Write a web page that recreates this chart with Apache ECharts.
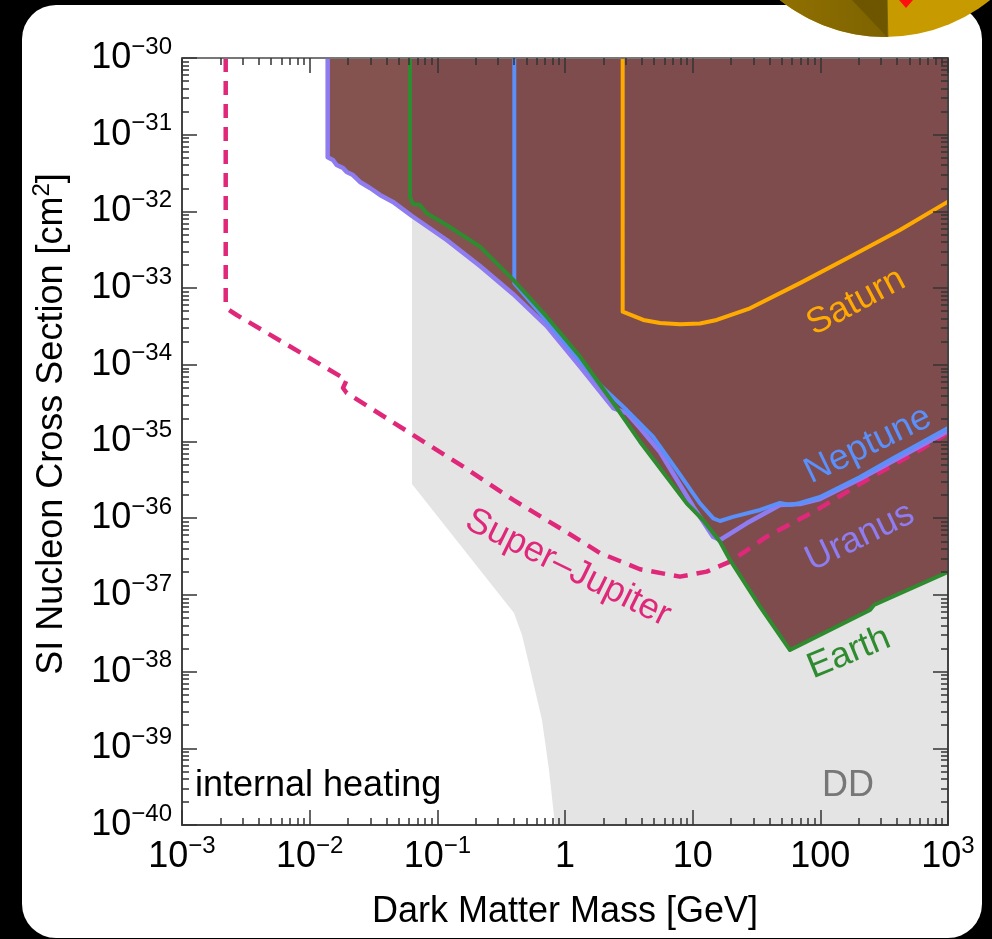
<!DOCTYPE html>
<html><head><meta charset="utf-8">
<script src="https://cdn.jsdelivr.net/npm/echarts@6/dist/echarts.min.js"></script>
<style>html,body{margin:0;padding:0;background:#000;}#c{width:992px;height:939px;}</style>
</head><body><div id="c"></div>
<script>
// ---------------- data (mass in GeV, cross section in cm^2) ----------------
const uranusMass  = [0.01384,0.01384,0.01523,0.01628,0.01825,0.0195,0.02184,0.02479,0.0297,0.03556,0.04496,0.06331,0.1184,0.2159,0.3915,0.7188,1.311,2.389,3.043,3.868,5.548,10.12,14.43,16.37,26.5,48.32,69.3,99.4,204.6,370.9,1000];
const uranusSigma = [1e-30,5.07e-32,4.68e-32,4.03e-32,3.68e-32,3.26e-32,2.98e-32,2.42e-32,2.02e-32,1.64e-32,1.33e-32,8.71e-33,4.24e-33,1.94e-33,8.38e-34,3.20e-34,9.45e-35,2.73e-35,2.35e-35,1.50e-35,7.30e-36,1.41e-36,5.74e-37,5.20e-37,8.58e-37,1.49e-36,1.53e-36,1.78e-36,3.24e-36,5.57e-36,1.37e-35];

const neptuneMass  = [0.4008,0.4008,0.7188,1.311,1.880,3.043,4.891,7.499,11.41,14.51,16.37,20.70,33.69,48.32,57.86,69.30,99.4,204.6,370.9,1000];
const neptuneSigma = [1e-30,1.16e-33,3.72e-34,1.12e-34,5.45e-35,2.57e-35,1.16e-35,4.25e-36,1.56e-36,9.97e-37,9.19e-37,1.04e-36,1.28e-36,1.58e-36,1.49e-36,1.58e-36,1.89e-36,3.44e-36,6.04e-36,1.50e-35];

const earthMass  = [0.06108,0.06108,0.06446,0.07314,0.08254,0.1184,0.2159,0.3936,0.7188,1.311,2.389,3.868,8.981,12.05,16.37,19.61,33.69,57.86,69.30,244.9,263.3,1000];
const earthSigma = [1e-30,1.55e-32,1.25e-32,1.21e-32,9.45e-33,6.65e-33,3.47e-33,1.28e-33,4.24e-34,1.28e-34,3.18e-35,9.94e-36,1.56e-36,9.47e-37,4.94e-37,2.85e-37,7.02e-38,1.91e-38,2.22e-38,6.36e-38,7.38e-38,1.99e-37];

const saturnMass  = [2.830,2.830,4.106,5.548,7.955,11.41,15.43,28.12,69.30,170.8,420.7,1000];
const saturnSigma = [1e-30,4.92e-34,3.84e-34,3.51e-34,3.37e-34,3.46e-34,3.84e-34,5.45e-34,1.16e-33,2.57e-33,5.72e-33,1.34e-32];

const superJupiterMass  = [0.0022,0.0022,0.002334,0.002682,0.0195,0.01825,0.0195,0.1597,0.3936,0.9645,1.880,3.868,7.955,12.88,19.61,38.01,93.65,230.7,603.6,1000];
const superJupiterSigma = [1e-30,6.34e-34,5.18e-34,4.46e-34,6.34e-35,4.98e-35,4.29e-35,4.69e-36,1.73e-36,7.02e-37,3.52e-37,2.16e-37,1.73e-37,2.01e-37,2.71e-37,5.74e-37,1.28e-36,3.15e-36,7.75e-36,1.29e-35];

// direct-detection (DD) excluded region boundary
const ddMass  = [0.06331,0.06331,0.3986,0.4604,0.5131,0.5821,0.6604,0.7494,0.835,1000,1000];
const ddSigma = [1e-30,2.79e-36,5.81e-38,3.00e-38,1.42e-38,5.75e-39,2.34e-39,5.22e-40,1e-40,1e-40,1e-30];

const xTickLabels = ['10^\u22123','10^\u22122','10^\u22121','1','10','100','10^3'];
const yTickLabels = ['10^\u221240','10^\u221239','10^\u221238','10^\u221237','10^\u221236','10^\u221235','10^\u221234','10^\u221233','10^\u221232','10^\u221231','10^\u221230'];

// ---------------- chart ----------------
const FONT = '"Liberation Sans", Arial, Helvetica, sans-serif';
const L = Math.log10;
const toPts = (ms, ss) => ms.map((m, i) => [L(m), L(ss[i])]);
const richText = s => { const i = s.indexOf('^'); return i < 0 ? '{b|' + s + '}' : '{b|' + s.slice(0, i) + '}{s|' + s.slice(i + 1) + '}'; };
const labelRich = {
  b: {fontSize: 36, fontFamily: FONT, color: '#000', lineHeight: 46},
  s: {fontSize: 24, fontFamily: FONT, color: '#000', lineHeight: 24, verticalAlign: 'top'}
};
const xMinorTicks = [], yMinorTicks = [];
for (let n = -3; n < 3; n++) for (let k = 2; k <= 9; k++) xMinorTicks.push(n + L(k));
for (let n = -40; n < -30; n++) for (let k = 2; k <= 9; k++) yMinorTicks.push(n + L(k));

const tickLine = {color: '#333', width: 1.5};
function majorAxis(pos, min, max, lineColor, label) {
  return {type: 'value', position: pos, min, max, interval: 1, z: 20,
    axisLine: {show: true, onZero: false, lineStyle: {color: lineColor, width: 2}},
    axisTick: {show: true, inside: true, length: 15, lineStyle: tickLine},
    axisLabel: label || {show: false},
    splitLine: {show: false}};
}
function minorAxis(pos, min, max, vals) {
  return {type: 'value', position: pos, min, max, z: 20,
    axisLine: {show: false, onZero: false},
    axisTick: {show: true, inside: true, length: 7, customValues: vals, lineStyle: tickLine},
    axisLabel: {show: false},
    splitLine: {show: false}};
}
function poly(name, pts, color, z) {
  return {type: 'custom', name, z, silent: true, clip: true, data: [[0, -35]],
    renderItem: (params, api) => ({type: 'polygon', shape: {points: pts.map(p => api.coord(p))}, style: {fill: color}})};
}
function line(name, pts, color, z, width, dash) {
  return {type: 'line', name, z, data: pts, symbol: 'none', silent: true, clip: true,
    lineStyle: {color, width, type: dash || 'solid', cap: 'butt', join: 'round'}};
}

const uranusPts = toPts(uranusMass, uranusSigma);
const earthPts = toPts(earthMass, earthSigma);
const topRight = [L(1000), L(1e-30)];

const chart = echarts.init(document.getElementById('c'), null, {renderer: 'canvas'});
const txt = (text, x, y, color, rot, align) => ({type: 'text', x, y, rotation: rot || 0, z: 100,
  style: {text, fill: color, font: '36px ' + FONT, align: align || 'center', verticalAlign: 'middle'}});

chart.setOption({
  animation: false,
  backgroundColor: '#000',
  grid: {left: 182, top: 58, width: 766, height: 767, containLabel: false, outerBoundsMode: 'none'},
  xAxis: [
    majorAxis('bottom', -3, 3, '#444', {show: true, margin: 9, showMinLabel: true, showMaxLabel: true,
      formatter: v => richText(xTickLabels[Math.round(v) + 3]), rich: labelRich}),
    minorAxis('bottom', -3, 3, xMinorTicks),
    majorAxis('top', -3, 3, '#777'),
    minorAxis('top', -3, 3, xMinorTicks)
  ],
  yAxis: [
    majorAxis('left', -40, -30, '#444', {show: true, margin: 10, showMinLabel: true, showMaxLabel: true,
      formatter: v => richText(yTickLabels[Math.round(v) + 40]), rich: labelRich}),
    minorAxis('left', -40, -30, yMinorTicks),
    majorAxis('right', -40, -30, '#444'),
    minorAxis('right', -40, -30, yMinorTicks)
  ],
  series: [
    poly('DD', toPts(ddMass, ddSigma), '#e4e4e4', 1),
    poly('Uranus region', uranusPts.concat([topRight]), '#85534f', 2),
    poly('Earth region', earthPts.concat([topRight]), '#7e4c4c', 3),
    line('Super\u2013Jupiter', toPts(superJupiterMass, superJupiterSigma), '#e0287a', 4, 4.5, [14, 9]),
    line('Uranus', uranusPts, '#8e7cf0', 5, 4.5),
    line('Neptune', toPts(neptuneMass, neptuneSigma), '#5b8ff9', 6, 4),
    line('Earth', earthPts, '#2f8b2f', 7, 4),
    line('Saturn', toPts(saturnMass, saturnSigma), '#ffaa00', 8, 4)
  ],
  graphic: {elements: [
    {type: 'rect', z: -10, shape: {x: 22, y: 5, width: 960, height: 933, r: 34}, style: {fill: '#fff'}},
    {type: 'circle', z: -5, shape: {cx: 885, cy: -131, r: 168}, style: {fill: '#c79b00'}},
    {type: 'sector', z: -5, shape: {cx: 885, cy: -131, r: 168, r0: 0, startAngle: Math.PI / 2 - 0.02, endAngle: Math.PI},
      style: {fill: new echarts.graphic.LinearGradient(0, 0, 1, 0, [{offset: 0, color: '#9a7800'}, {offset: 1, color: '#7d6200'}])}},
    {type: 'polygon', z: -4, shape: {points: [[852, 0], [887, 37], [887, 0]]}, style: {fill: '#6e5600'}},
    {type: 'polygon', z: -4, shape: {points: [[899, 0], [913, 0], [906, 8]]}, style: {fill: '#ff1010'}},
    txt('Saturn', 856, 302, '#ffaa00', 0.49),
    txt('Neptune', 868, 445, '#5b8ff9', 0.45),
    txt('Uranus', 860, 537, '#8e7cf0', 0.45),
    txt('Earth', 849, 653, '#2f8b2f', 0.39),
    txt('Super\u2013Jupiter', 568, 568, '#e0287a', -0.46),
    txt('internal heating', 195, 786, '#000', 0, 'left'),
    txt('DD', 848, 786, '#777'),
    txt('Dark Matter Mass [GeV]', 565, 912, '#000'),
    {type: 'text', x: 52, y: 424, rotation: Math.PI / 2, z: 100,
      style: {text: '{a|SI Nucleon Cross Section [cm}{s|2}{a|]}', align: 'center', verticalAlign: 'middle',
        rich: {a: {fontSize: 36, fontFamily: FONT, fill: '#000', lineHeight: 44},
               s: {fontSize: 24, fontFamily: FONT, fill: '#000', lineHeight: 24, verticalAlign: 'top'}}}}
  ]}
});
</script></body></html>
